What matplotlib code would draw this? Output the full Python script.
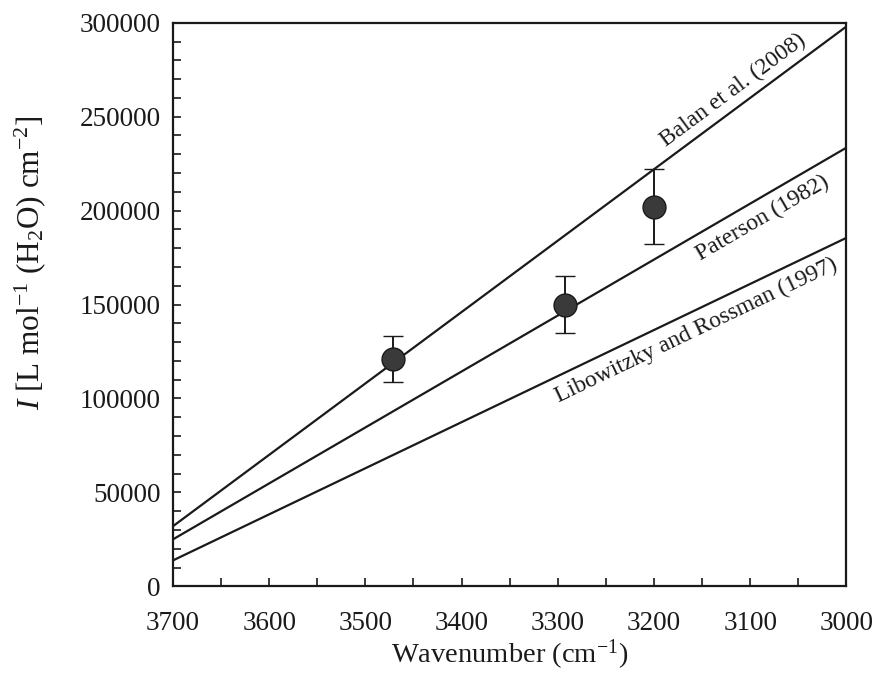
import numpy as np
import matplotlib
matplotlib.use("Agg")
import matplotlib.pyplot as plt
from matplotlib.ticker import MultipleLocator

plt.rcParams['font.family'] = ['Liberation Serif', 'DejaVu Serif']
plt.rcParams['mathtext.fontset'] = 'custom'
plt.rcParams['mathtext.rm'] = 'Liberation Serif'
plt.rcParams['mathtext.it'] = 'Liberation Serif:italic'

# Calibration lines: (name, value at 3700, value at 3000)
line_names = ["Balan et al. (2008)", "Paterson (1982)", "Libowitzky and Rossman (1997)"]
line_x = [3700, 3000]
line_y = [[32000, 298000], [25000, 233500], [13800, 185500]]
# label positions (x in wavenumber) and side (above/below line)
label_x = [3108, 3097, 3165]
label_side = [1, -1, -1]

# Data points
pt_x = [3471, 3292, 3200]
pt_y = [121000, 150000, 202000]
pt_err = [12000, 15000, 20000]

fig = plt.figure(figsize=(8.78, 6.89), dpi=100)
ax = fig.add_axes([0.197, 0.149, 0.767, 0.818])

for ys in line_y:
    ax.plot(line_x, ys, color='#1a1a1a', lw=1.6, solid_capstyle='butt')

ax.errorbar(pt_x, pt_y, yerr=pt_err, fmt='o', ms=16.5, mfc='#3a3a3a', mec='#1a1a1a',
            mew=1.0, ecolor='#1a1a1a', elinewidth=1.4, capsize=7, capthick=1.4, zorder=5)

ax.set_xlim(3700, 3000)
ax.set_ylim(0, 300000)
ax.xaxis.set_major_locator(MultipleLocator(100))
ax.xaxis.set_minor_locator(MultipleLocator(50))
ax.yaxis.set_major_locator(MultipleLocator(50000))
ax.yaxis.set_minor_locator(MultipleLocator(10000))
ax.tick_params(which='both', direction='in', width=1.2, colors='#1a1a1a', labelcolor='#1a1a1a')
ax.tick_params(which='major', length=6, labelsize=19.5)
ax.tick_params(axis='x', which='major', pad=18)
ax.tick_params(axis='y', which='major', pad=9)
ax.tick_params(which='minor', length=6)
ax.tick_params(axis='x', which='both', top=False)
ax.tick_params(axis='y', which='both', right=False)
for s in ax.spines.values():
    s.set_linewidth(1.6)
    s.set_color('#1a1a1a')

ax.set_xlabel("Wavenumber (cm$^{-1}$)", fontsize=20.5, labelpad=1, color='#1a1a1a')
ax.set_ylabel("$\\mathit{I}$ [L mol$^{-1}$ (H$_2$O) cm$^{-2}$]", fontsize=22.5, color='#1a1a1a')
ax.yaxis.set_label_coords(-0.186, 0.575)

fig.canvas.draw()
for name, ys, lx, side in zip(line_names, line_y, label_x, label_side):
    x0, x1 = line_x
    p0 = ax.transData.transform((x0, ys[0]))
    p1 = ax.transData.transform((x1, ys[1]))
    ang = np.degrees(np.arctan2(p1[1]-p0[1], p1[0]-p0[0]))
    off = 4 if side > 0 else 6
    ly = ys[0] + (ys[1]-ys[0]) * (lx - x0) / (x1 - x0)
    ax.annotate(name, xy=(lx, ly), xytext=(-side*off*np.sin(np.radians(ang)), side*off*np.cos(np.radians(ang))),
                textcoords='offset points', rotation=ang, rotation_mode='anchor',
                ha='center', va='bottom' if side > 0 else 'top', fontsize=17, color='#1a1a1a')

fig.savefig("out.png", dpi=100)
